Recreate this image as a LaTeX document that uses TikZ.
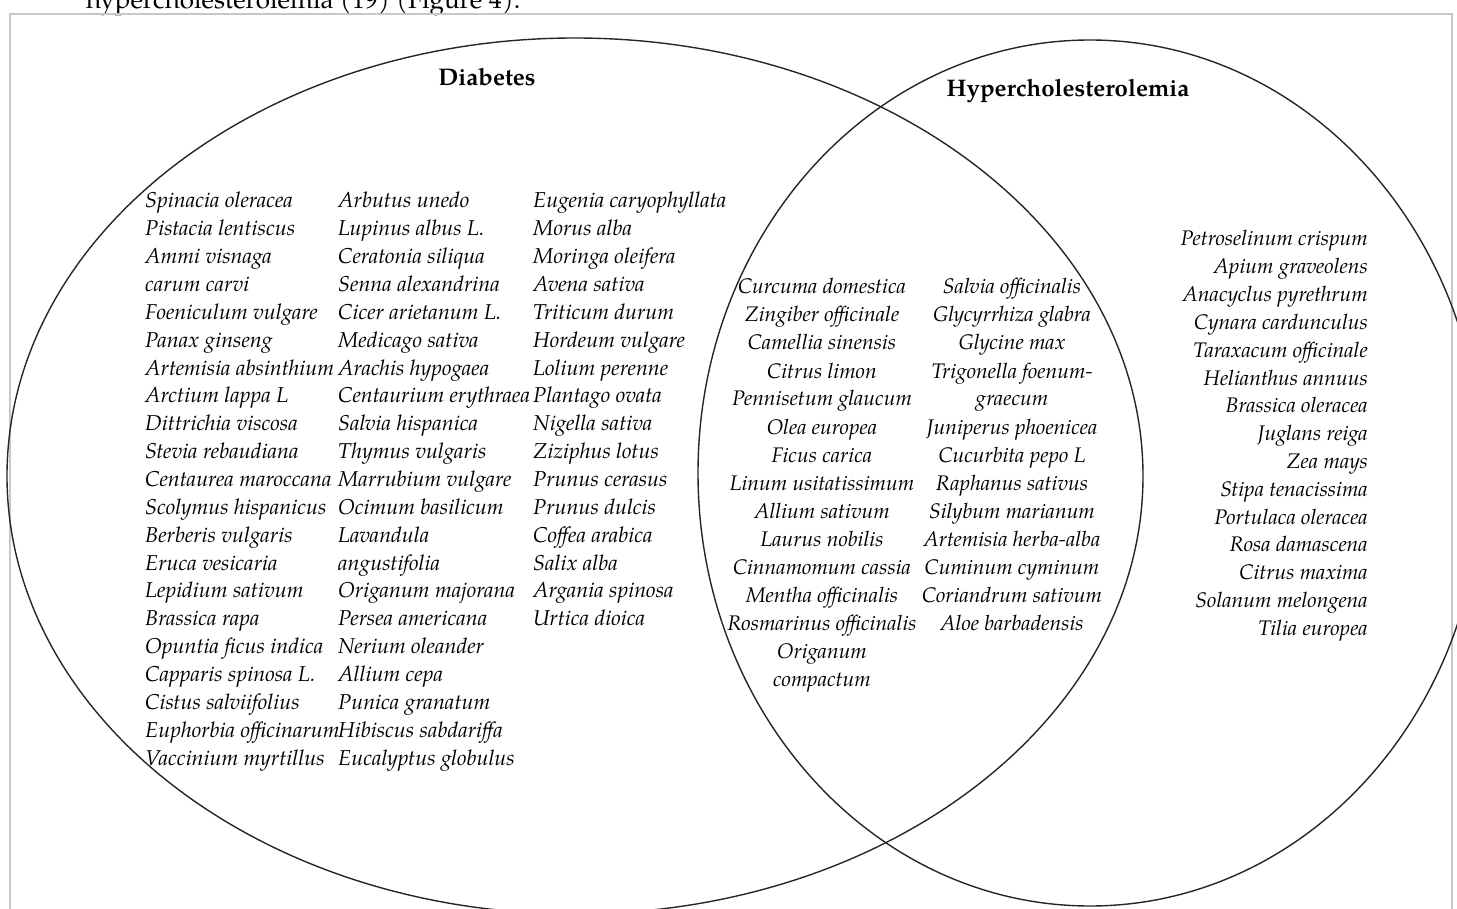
\documentclass[tikz,border=0pt]{standalone}
\usepackage{fontspec}
\setmainfont{TeX Gyre Pagella}
\begin{document}
\begin{tikzpicture}[x=1pt,y=-1pt,
  frameline/.style={draw=black!22,line width=2pt},
  setline/.style={draw=black!85,line width=1.4pt},
  heading/.style={font=\bfseries\fontsize{24}{28}\selectfont,inner sep=0pt,anchor=base},
  plantL/.style={font=\itshape\fontsize{21.5}{24}\selectfont,inner sep=0pt,anchor=base west},
  plantC/.style={font=\itshape\fontsize{21.1}{24}\selectfont,inner sep=0pt,anchor=base},
  plantR/.style={font=\itshape\fontsize{21.1}{24}\selectfont,inner sep=0pt,anchor=base east},
  pagetext/.style={font=\fontsize{26}{30}\selectfont,inner sep=0pt,anchor=base west}]
\useasboundingbox (0,0) rectangle (1457,909);
% page text cut off at the top
\node[pagetext] (pg) at (86,9) {hypercholesterolemia (19) (Figure 4).};
% frame
\draw[frameline] (10,915) -- (10,14) -- (1452,14) -- (1452,915);
% sets
\draw[setline] (575,476) ellipse [x radius=568pt, y radius=438pt];
\draw[setline] (1090,473) ellipse [x radius=392pt, y radius=433pt];
% headings
\node[heading] (hd) at (487,86) {Diabetes};
\node[heading] (hh) at (1068,97) {Hypercholesterolemia};
% Diabetes only
\foreach \t [count=\i] in {Spinacia oleracea,Pistacia lentiscus,Ammi visnaga,carum carvi,Foeniculum vulgare,Panax ginseng,Artemisia absinthium,Arctium lappa L,Dittrichia viscosa,Stevia rebaudiana,Centaurea maroccana,Scolymus hispanicus,Berberis vulgaris,Eruca vesicaria,Lepidium sativum,Brassica rapa,Opuntia ficus indica,Capparis spinosa L.,Cistus salviifolius,Euphorbia officinarum,Vaccinium myrtillus}
  \node[plantL] (a\i) at (145,{208+27.85*(\i-1)}) {\t};
\foreach \t [count=\i] in {Arbutus unedo,Lupinus albus L.,Ceratonia siliqua,Senna alexandrina,Cicer arietanum L.,Medicago sativa,Arachis hypogaea,Centaurium erythraea,Salvia hispanica,Thymus vulgaris,Marrubium vulgare,Ocimum basilicum,Lavandula,angustifolia,Origanum majorana,Persea americana,Nerium oleander,Allium cepa,Punica granatum,Hibiscus sabdariffa,Eucalyptus globulus}
  \node[plantL] (b\i) at (338,{208+27.85*(\i-1)}) {\t};
\foreach \t [count=\i] in {Eugenia caryophyllata,Morus alba,Moringa oleifera,Avena sativa,Triticum durum,Hordeum vulgare,Lolium perenne,Plantago ovata,Nigella sativa,Ziziphus lotus,Prunus cerasus,Prunus dulcis,Coffea arabica,Salix alba,Argania spinosa,Urtica dioica}
  \node[plantL] (c\i) at (533,{208+27.85*(\i-1)}) {\t};
% both
\foreach \t [count=\i] in {Curcuma domestica,Zingiber officinale,Camellia sinensis,Citrus limon,Pennisetum glaucum,Olea europea,Ficus carica,Linum usitatissimum,Allium sativum,Laurus nobilis,Cinnamomum cassia,Mentha officinalis,Rosmarinus officinalis,Origanum,compactum}
  \node[plantC] (m\i) at (822,{294+28*(\i-1)}) {\t};
\foreach \t [count=\i] in {Salvia officinalis,Glycyrrhiza glabra,Glycine max,Trigonella foenum-,graecum,Juniperus phoenicea,Cucurbita pepo L,Raphanus sativus,Silybum marianum,Artemisia herba-alba,Cuminum cyminum,Coriandrum sativum,Aloe barbadensis}
  \node[plantC] (n\i) at (1012,{294+28*(\i-1)}) {\t};
% Hypercholesterolemia only
\foreach \t [count=\i] in {Petroselinum crispum,Apium graveolens,Anacyclus pyrethrum,Cynara cardunculus,Taraxacum officinale,Helianthus annuus,Brassica oleracea,Juglans reiga,Zea mays,Stipa tenacissima,Portulaca oleracea,Rosa damascena,Citrus maxima,Solanum melongena,Tilia europea}
  \node[plantR] (r\i) at (1368,{246+27.8*(\i-1)}) {\t};
\end{tikzpicture}
\end{document}
